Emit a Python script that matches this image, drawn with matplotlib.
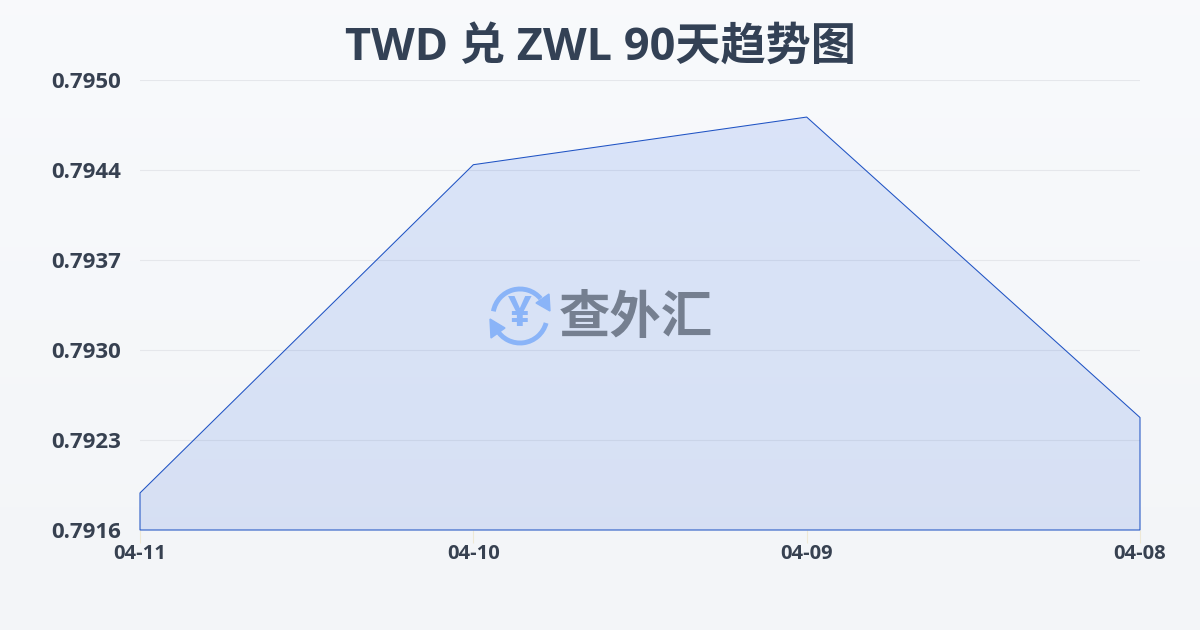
import numpy as np
import matplotlib
matplotlib.use("Agg")
import matplotlib.pyplot as plt
from matplotlib.patches import Arc, Polygon

dates = ["04-11", "04-10", "04-09", "04-08"]
rates = [0.79188, 0.79436, 0.79472, 0.79245]
ytick_values = [0.7916, 0.79228, 0.79296, 0.79364, 0.79432, 0.7950]
ytick_labels = ["0.7916", "0.7923", "0.7930", "0.7937", "0.7944", "0.7950"]

TEXT = "#374151"
LINE = "#1f53c4"
CJK = ["Noto Sans CJK SC", "DejaVu Sans"]

fig = plt.figure(figsize=(12, 6.3), dpi=100)

# page background, light vertical gradient
bg = fig.add_axes([0, 0, 1, 1], zorder=0)
bg_colors = np.linspace([0.973, 0.980, 0.988], [0.953, 0.961, 0.973], 256).reshape(256, 1, 3)
bg.imshow(bg_colors, aspect="auto", extent=[0, 1, 0, 1])
bg.axis("off")

ax = fig.add_axes([140 / 1200, 1 - 530 / 630, 1000 / 1200, 450 / 630], zorder=1)
ax.patch.set_alpha(0)
x = np.arange(len(dates))
ax.set_xlim(0, len(dates) - 1)
ax.set_ylim(0.7916, 0.7950)

ax.set_yticks(ytick_values)
ax.set_yticklabels(ytick_labels, fontsize=16, fontweight="bold", color=TEXT, family=["Open Sans"])
ax.set_xticks(x)
ax.set_xticklabels(dates, fontsize=14.5, fontweight="bold", color=TEXT, family=["Open Sans"])
ax.tick_params(axis="y", length=0, pad=13.5)
ax.tick_params(axis="x", length=9, width=0.8, color="#eee8d5", pad=1)
ax.grid(axis="y", color="#e5e7eb", linewidth=0.8)
ax.set_axisbelow(True)
for spine in ax.spines.values():
    spine.set_visible(False)

# area under the line with a soft gradient
grad = np.zeros((256, 1, 4))
grad[..., :3] = np.linspace([0.145, 0.39, 0.92], [0.15, 0.36, 0.85], 256).reshape(256, 1, 3)
grad[..., 3] = 0.14
img = ax.imshow(grad, aspect="auto", origin="upper", zorder=2,
                extent=[0, len(dates) - 1, 0.7916, 0.7950])
verts = [(x[0], 0.7916)] + list(zip(x, rates)) + [(x[-1], 0.7916)]
area = Polygon(verts, closed=True, facecolor="none", edgecolor="none", transform=ax.transData)
ax.add_patch(area)
img.set_clip_path(area)

outline = Polygon(verts, closed=True, facecolor="none", edgecolor=LINE, linewidth=0.75, zorder=3,
                  clip_on=False)
ax.add_patch(outline)

fig.text(0.5, 1 - 48 / 630, "TWD 兑 ZWL 90天趋势图", ha="center", va="center",
         fontsize=32.5, fontweight="bold", color="#334155",
         family=["Open Sans", "Noto Sans CJK SC"], zorder=5)

# watermark: logo and brand name
wm = fig.add_axes([0, 0, 1, 1], zorder=4)
wm.set_xlim(0, 1200)
wm.set_ylim(630, 0)
wm.axis("off")
wm.patch.set_alpha(0)
BLUE = "#8ab4f8"
cx, cy = 520, 316
wm.add_patch(Arc((cx, cy), 54, 54, theta1=190, theta2=320, color=BLUE, linewidth=3.5))
wm.add_patch(Arc((cx, cy), 54, 54, theta1=15, theta2=150, color=BLUE, linewidth=3.5))
wm.add_patch(Polygon([(549, 294), (550, 311), (536, 303)], color=BLUE))
wm.add_patch(Polygon([(491, 338), (490, 319), (505, 328)], color=BLUE))
wm.text(cx, cy - 1, "¥", ha="center", va="center", fontsize=30, fontweight="bold", color=BLUE,
        family=["Open Sans"])
wm.text(636, 318, "查外汇", ha="center", va="center", fontsize=37, fontweight="bold",
        color="#757f90", family=CJK)

fig.savefig("out.png", dpi=100)
